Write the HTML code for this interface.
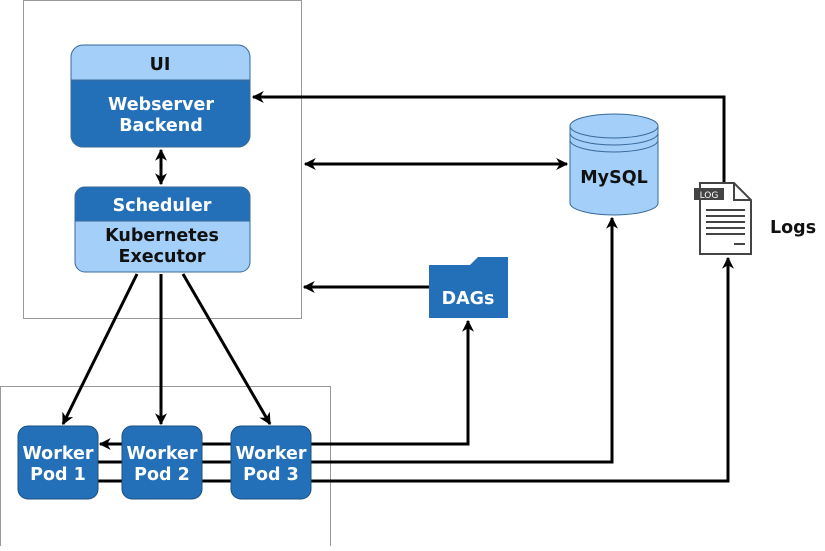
<!DOCTYPE html>
<html><head><meta charset="utf-8"><style>
html,body{margin:0;padding:0;background:#fff;}
text{font-family:"DejaVu Sans","Liberation Sans",sans-serif;font-weight:bold;}
</style></head><body>
<svg width="825" height="546" viewBox="0 0 825 546" xmlns="http://www.w3.org/2000/svg">
<defs>
<marker id="a" viewBox="0 0 10 10" refX="9" refY="5" markerWidth="12" markerHeight="12" markerUnits="userSpaceOnUse" orient="auto-start-reverse">
<path d="M0,0 L10,5 L0,10 L3,5 z" fill="#000"/></marker>
</defs>
<rect x="23.5" y="0.5" width="278" height="318" fill="none" stroke="#999"/>
<rect x="0.5" y="386.5" width="330" height="160" fill="none" stroke="#999"/>
<rect x="71" y="45" width="179" height="102" rx="12" fill="#a3cff9" stroke="#3a6a99"/>
<path d="M71,80 h179 v55 a12,12 0 0 1 -12,12 h-155 a12,12 0 0 1 -12,-12 z" fill="#2470b8" stroke="#3a6a99"/>
<text x="160" y="70" font-size="17.5" text-anchor="middle" fill="#111">UI</text>
<text x="161" y="110" font-size="17.5" text-anchor="middle" fill="#fff">Webserver</text>
<text x="161" y="131" font-size="17.5" text-anchor="middle" fill="#fff">Backend</text>
<rect x="75" y="187" width="175" height="85" rx="10" fill="#a3cff9" stroke="#3a6a99"/>
<path d="M75,221 v-24 a10,10 0 0 1 10,-10 h155 a10,10 0 0 1 10,10 v24 z" fill="#2470b8" stroke="#3a6a99"/>
<text x="162" y="211" font-size="17.5" text-anchor="middle" fill="#fff">Scheduler</text>
<text x="162" y="241" font-size="17.5" text-anchor="middle" fill="#111">Kubernetes</text>
<text x="162" y="262" font-size="17.5" text-anchor="middle" fill="#111">Executor</text>
<g stroke="#000" stroke-width="3" fill="none">
<line x1="161" y1="150" x2="161" y2="184" marker-start="url(#a)" marker-end="url(#a)"/>
<line x1="305" y1="164" x2="567" y2="164" marker-start="url(#a)" marker-end="url(#a)"/>
<polyline points="724,182 724,97 253,97" marker-end="url(#a)"/>
<line x1="429" y1="287" x2="304" y2="287" marker-end="url(#a)"/>
<line x1="137" y1="274" x2="63" y2="424" marker-end="url(#a)"/>
<line x1="161" y1="274" x2="161" y2="424" marker-end="url(#a)"/>
<line x1="183" y1="274" x2="270" y2="424" marker-end="url(#a)"/>
<polyline points="311,444 468,444 468,321" marker-end="url(#a)"/>
<line x1="122" y1="444" x2="100" y2="444" marker-end="url(#a)"/>
<line x1="202" y1="444" x2="231" y2="444"/>
<polyline points="98,462 612,462 612,218" marker-end="url(#a)"/>
<polyline points="98,481 728,481 728,258" marker-end="url(#a)"/>
</g>
<g stroke="#1d4f80" fill="#2470b8">
<rect x="18" y="426" width="80" height="73" rx="10"/>
<rect x="122" y="426" width="80" height="73" rx="10"/>
<rect x="231" y="426" width="80" height="73" rx="10"/>
</g>
<g font-size="17.5" fill="#fff" text-anchor="middle">
<text x="58" y="459">Worker</text><text x="58" y="480">Pod 1</text>
<text x="162" y="459">Worker</text><text x="162" y="480">Pod 2</text>
<text x="271" y="459">Worker</text><text x="271" y="480">Pod 3</text>
</g>
<path d="M570,126 v77 a44,12 0 0 0 88,0 v-77" fill="#a3cff9" stroke="#3a6a99"/>
<ellipse cx="614" cy="126" rx="44" ry="12" fill="#a3cff9" stroke="#3a6a99"/>
<path d="M570,133 a44,12 0 0 0 88,0 M570,140 a44,12 0 0 0 88,0" fill="none" stroke="#3a6a99"/>
<text x="614" y="183" font-size="17.5" text-anchor="middle" fill="#111">MySQL</text>
<path d="M700,183 h34 l17,17 v54 h-51 z" fill="#fff" stroke="#444" stroke-width="2"/>
<path d="M734,183 v17 h17" fill="none" stroke="#444" stroke-width="2"/>
<rect x="694" y="188" width="30" height="12" fill="#444"/>
<text x="709" y="198" font-size="9" text-anchor="middle" fill="#fff" style="font-weight:normal">LOG</text>
<g stroke="#444" stroke-width="2">
<line x1="706" y1="210" x2="745" y2="210"/><line x1="706" y1="216" x2="745" y2="216"/>
<line x1="706" y1="222" x2="745" y2="222"/><line x1="706" y1="228" x2="745" y2="228"/>
<line x1="706" y1="234" x2="745" y2="234"/><line x1="734" y1="244" x2="745" y2="244"/>
</g>
<text x="770" y="233" font-size="17.5" fill="#111">Logs</text>
<path d="M470,265 l8,-8 h30 v8 z" fill="#2470b8"/>
<rect x="429" y="265" width="79" height="53" fill="#2470b8"/>
<text x="468" y="304" font-size="17.5" text-anchor="middle" fill="#fff">DAGs</text>
</svg>
</body></html>
